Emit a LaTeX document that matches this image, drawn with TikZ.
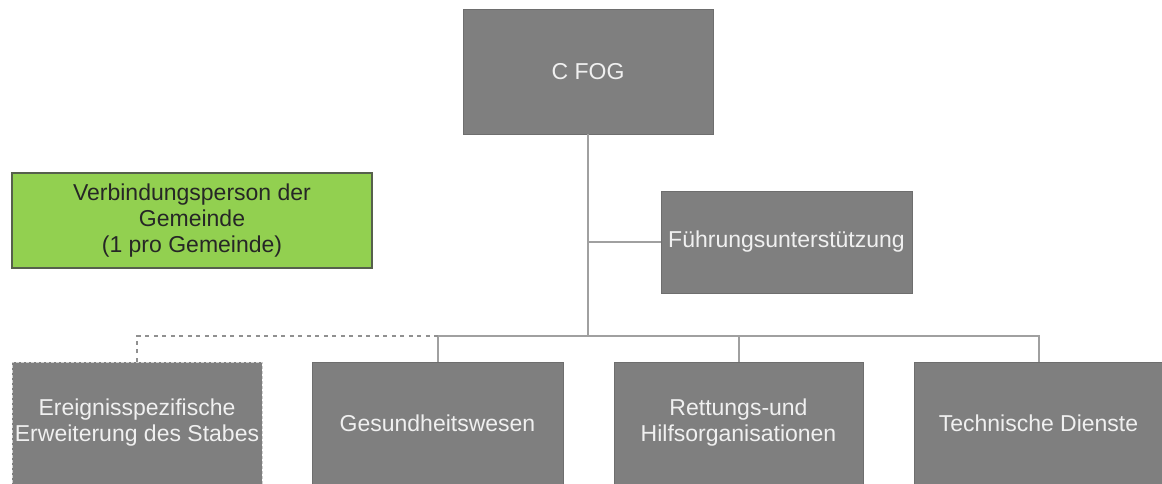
\documentclass[tikz,border=0pt]{standalone}
\usepackage{fontspec}
\setmainfont{Liberation Sans}
\definecolor{boxgray}{HTML}{7F7F7F}
\definecolor{boxedge}{HTML}{6E6E6E}
\definecolor{boxtext}{HTML}{F0F0F0}
\definecolor{linegray}{HTML}{A0A0A0}
\definecolor{greenfill}{HTML}{92D050}
\definecolor{greenedge}{HTML}{56604C}
\definecolor{dashedge}{HTML}{D0D0D0}
\tikzset{
  orgbox/.style={draw=boxedge, line width=0.8pt, fill=boxgray, text=boxtext, align=center,
    inner sep=0pt, font=\fontsize{23}{26}\selectfont},
  greenbox/.style={draw=greenedge, line width=1.2pt, fill=greenfill, text=black!85, align=center,
    inner sep=0pt, font=\fontsize{23}{26}\selectfont},
  dashbox/.style={orgbox, draw=dashedge, dash pattern=on 3pt off 2pt},
  conn/.style={draw=linegray, line width=2pt},
  dconn/.style={draw=linegray!90!black, line width=1.6pt, dash pattern=on 4pt off 4.5pt},
}
\begin{document}
\begin{tikzpicture}[x=1pt,y=-1pt]
\useasboundingbox (0,0) rectangle (1162,484);
\node[orgbox, minimum width=250pt, minimum height=125pt] (cfog) at (588,71.5) {C FOG};
\node[orgbox, minimum width=251pt, minimum height=102pt] (fu) at (786.5,242) {Führungsunterstützung};
\node[greenbox, minimum width=360pt, minimum height=95pt] (gem) at (192,220.5) {Verbindungsperson der\\Gemeinde\\(1 pro Gemeinde)};
\node[dashbox, minimum width=250pt, minimum height=122pt] (b1) at (137,423) {Ereignisspezifische\\Erweiterung des Stabes};
\node[orgbox, minimum width=251pt, minimum height=122pt] (b2) at (437.5,423) {Gesundheitswesen};
\node[orgbox, minimum width=249pt, minimum height=122pt] (b3) at (738.5,423) {Rettungs-und\\Hilfsorganisationen};
\node[orgbox, minimum width=249pt, minimum height=122pt] (b4) at (1038.5,423) {Technische Dienste};
\coordinate (bus) at (0,336);
\draw[conn] (cfog.south) -- (cfog.south |- bus);
\draw[conn] (cfog.south |- fu) -- (fu.west);
\draw[conn] (b2.north) -- (b2.north |- bus) -- (b4.north |- bus) -- (b4.north);
\draw[conn] (b3.north) -- (b3.north |- bus);
\draw[dconn] (b1.north) -- (b1.north |- bus) -- (b2.north |- bus);
\end{tikzpicture}
\end{document}
